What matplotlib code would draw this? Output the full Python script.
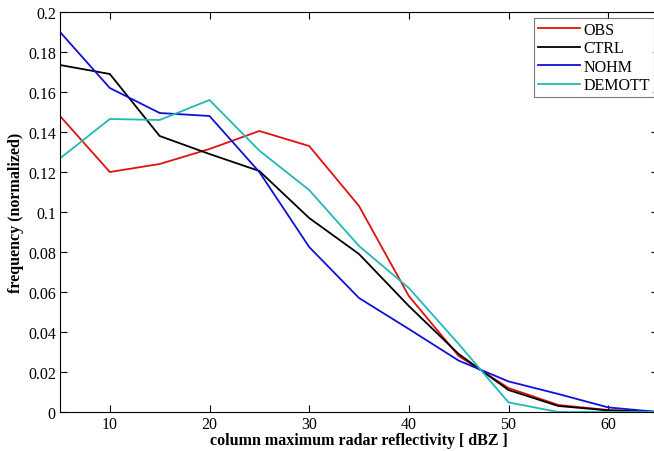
import numpy as np
import matplotlib
matplotlib.use('Agg')
from matplotlib import pyplot as plt
from matplotlib.ticker import FuncFormatter

# reflectivity bins [dBZ]
dbz = [5, 10, 15, 20, 25, 30, 35, 40, 45, 50, 55, 60, 65]

obs = [0.148, 0.120, 0.124, 0.1315, 0.1405, 0.133, 0.103, 0.058, 0.028, 0.012, 0.0035, 0.001, 0.0]
ctrl = [0.1735, 0.169, 0.138, 0.129, 0.1205, 0.097, 0.079, 0.053, 0.029, 0.011, 0.003, 0.0008, 0.0]
nohm = [0.190, 0.162, 0.1495, 0.148, 0.120, 0.0825, 0.057, 0.0415, 0.0257, 0.0153, 0.009, 0.0023, 0.0]
demott = [0.1268, 0.1465, 0.146, 0.156, 0.1307, 0.111, 0.083, 0.062, 0.034, 0.0048, 0.0, 0.0, 0.0]

series = ['OBS', 'CTRL', 'NOHM', 'DEMOTT']
colors = ['#e01010', '#000000', '#1010d8', '#20b8b8']

plt.rcParams['font.family'] = ['Liberation Serif', 'DejaVu Serif']

fig = plt.figure(figsize=(6.54, 4.52), dpi=100)
ax = fig.add_axes([60 / 654, 39 / 452, 598 / 654, 400 / 452])

for name, vals, c in zip(series, [obs, ctrl, nohm, demott], colors):
    ax.plot(dbz, vals, color=c, lw=1.3, label=name)

ax.set_xlim(5, 65)
ax.set_ylim(0, 0.2)
ax.set_xticks(np.arange(10, 61, 10))
ax.set_yticks(np.arange(0, 0.201, 0.02))
ax.yaxis.set_major_formatter(FuncFormatter(lambda v, p: '%g' % round(v, 3)))
ax.tick_params(direction='in', top=True, right=True, labelsize=11.5, length=5, width=0.8, pad=3)
for s in ax.spines.values():
    s.set_linewidth(0.8)

ax.set_xlabel('column maximum radar reflectivity [ dBZ ]', fontsize=11.5, fontweight='bold', labelpad=0)
ax.set_ylabel('frequency (normalized)', fontsize=11.5, fontweight='bold', labelpad=3)

leg = ax.legend(loc='upper right', bbox_to_anchor=(1.0, 1 - 19 / 452), bbox_transform=fig.transFigure,
                fontsize=11.5, frameon=True, fancybox=False, handlelength=2.6, handletextpad=0.25,
                borderpad=0.25, labelspacing=0.15, borderaxespad=0)
leg.get_frame().set_edgecolor('#555555')
leg.get_frame().set_linewidth(0.8)

fig.savefig('out.png', dpi=100)
